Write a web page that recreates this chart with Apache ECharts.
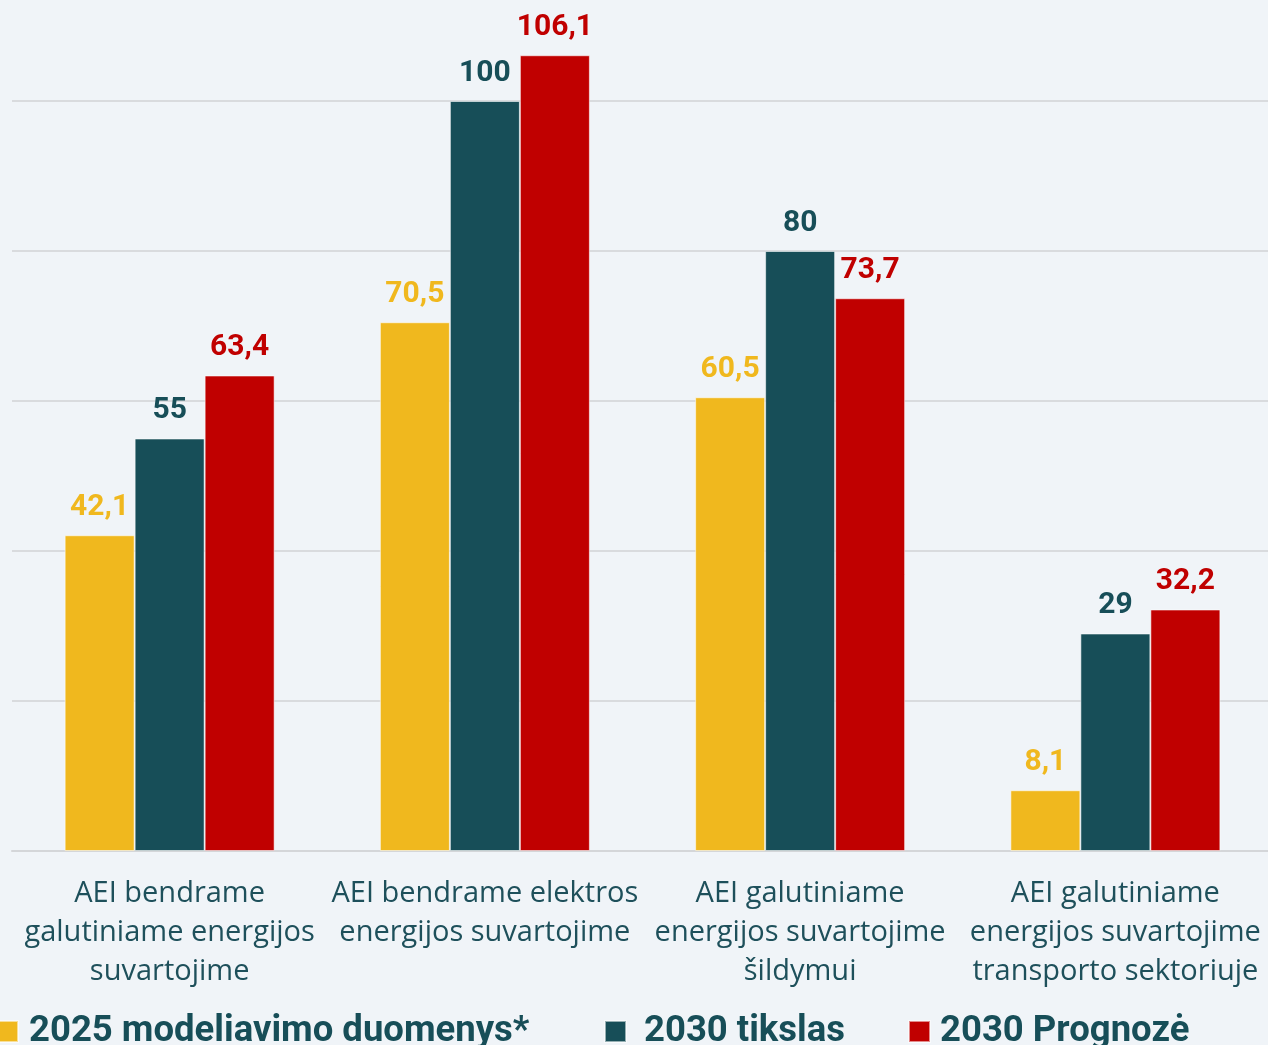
<!DOCTYPE html>
<html><head><meta charset="utf-8">
<script src="https://cdn.jsdelivr.net/npm/echarts@6/dist/echarts.min.js"></script>
<style>html,body{margin:0;padding:0;background:#F0F4F8;overflow:hidden;}#c{width:1280px;height:1045px;}</style>
</head><body><div id="c"></div>
<script>
const categories = [
  "AEI bendrame\ngalutiniame energijos\nsuvartojime",
  "AEI bendrame elektros\nenergijos suvartojime",
  "AEI galutiniame\nenergijos suvartojime\nšildymui",
  "AEI galutiniame\nenergijos suvartojime\ntransporto sektoriuje"
];
const seriesNames = ["2025 modeliavimo duomenys*", "2030 tikslas", "2030 Prognozė"];
const modeling2025 = [42.1, 70.5, 60.5, 8.1];
const target2030 = [55, 100, 80, 29];
const forecast2030 = [63.4, 106.1, 73.7, 32.2];
const colors = ["#F0B81E", "#174E58", "#C00000"];

const chart = echarts.init(document.getElementById('c'));
const fmt = p => String(p.value).replace('.', ',');
const mk = (name, data, color) => ({
  name, type: 'bar', data, barWidth: 70, barGap: '0%',
  itemStyle: { color, borderColor: 'rgba(255,255,255,0.55)', borderWidth: 1 },
  label: { show: true, position: 'top', distance: 13, formatter: fmt,
    color, fontFamily: 'Roboto', fontWeight: 'bold', fontSize: 30 }
});
const legendItem = (i, left, gap) => ({
  left, top: 1013, padding: 0, icon: 'rect', itemWidth: 21, itemHeight: 21,
  data: [seriesNames[i]], selectedMode: false,
  textStyle: { color: '#174E58', fontFamily: 'Roboto', fontWeight: 'bold', fontSize: 36.5, padding: [0,0,0,gap] }
});
chart.setOption({
  backgroundColor: '#F0F4F8',
  animation: false,
  color: colors,
  grid: { left: 12, right: 7, top: 1, bottom: 194, containLabel: false },
  legend: [legendItem(0, -4, 6), legendItem(1, 604, 13), legendItem(2, 908, 5)],
  xAxis: {
    type: 'category', data: categories,
    axisTick: { show: false },
    axisLine: { lineStyle: { color: '#D4D6D9', width: 2 } },
    axisLabel: { interval: 0, margin: 23, color: '#1E505B', fontFamily: 'Open Sans', fontSize: 29, lineHeight: 39 }
  },
  yAxis: {
    type: 'value', min: 0, max: 850/7.5, interval: 20,
    axisLabel: { show: false }, axisLine: { show: false }, axisTick: { show: false },
    splitLine: { show: true, showMaxLine: false, lineStyle: { color: '#D9DBDE', width: 2 } }
  },
  series: [
    mk(seriesNames[0], modeling2025, colors[0]),
    mk(seriesNames[1], target2030, colors[1]),
    mk(seriesNames[2], forecast2030, colors[2])
  ]
});
</script></body></html>
